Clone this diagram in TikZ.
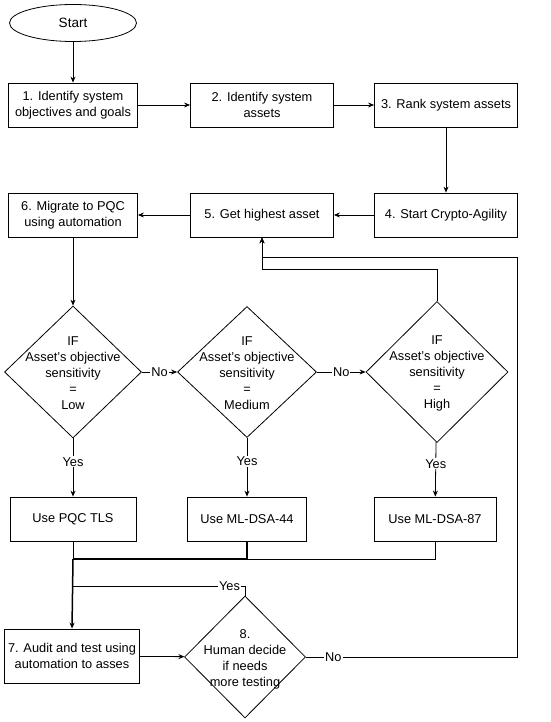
\documentclass[tikz,border=0pt]{standalone}
\usepackage{fontspec}
\setmainfont{Liberation Sans}
\usetikzlibrary{shapes.geometric,arrows.meta}
\begin{document}
\begin{tikzpicture}[x=1pt,y=-1pt,
  every node/.style={font=\fontsize{12.8}{15.5}\selectfont, text=black},
  box/.style={draw=black, line width=0.8pt, rectangle, minimum height=44pt, inner sep=0pt, align=center},
  dia/.style={draw=black, line width=0.8pt, diamond, inner sep=0pt},
  dtext/.style={align=center, font=\fontsize{12.8}{16}\selectfont},
  arr/.style={draw=black, line width=0.8pt, -{Stealth[length=6pt,width=5pt]}},
  ln/.style={draw=black, line width=0.8pt},
  lab/.style={fill=white, inner sep=1pt}
]
\useasboundingbox (0,0) rectangle (550,722);

\node[draw=black, line width=0.8pt, ellipse, minimum width=127pt, minimum height=37pt, inner sep=0pt, font=\fontsize{13.5}{16}\selectfont] (start) at (73,23) {Start};

\node[box, minimum width=129pt] (b1) at (73,105) {1. Identify system\\objectives and goals};
\node[box, minimum width=143pt] (b2) at (262,105) {2. Identify system\\assets};
\node[box, minimum width=143pt] (b3) at (446,105) {3. Rank system assets};

\node[box, minimum width=129pt] (b6) at (73,215) {6. Migrate to PQC\\using automation};
\node[box, minimum width=143pt] (b5) at (262,215) {5. Get highest asset};
\node[box, minimum width=143pt] (b4) at (446,215) {4. Start Crypto-Agility};

\node[dia, minimum width=137pt, minimum height=132pt] (d1) at (73,372) {};
\node[dtext] (t1) at (73,373) {IF\\Asset's objective\\sensitivity\\=\\Low};
\node[dia, minimum width=139pt, minimum height=131pt] (d2) at (247,372) {};
\node[dtext] (t2) at (247,373) {IF\\Asset's objective\\sensitivity\\=\\Medium};
\node[dia, minimum width=142pt, minimum height=141pt] (d3) at (437,372) {};
\node[dtext] (t3) at (437,373) {IF\\Asset's objective\\sensitivity\\=\\High};

\node[box, minimum width=126pt] (u1) at (73,519) {Use PQC TLS};
\node[box, minimum width=119pt] (u2) at (247,519) {Use ML-DSA-44};
\node[box, minimum width=122pt] (u3) at (435,519) {Use ML-DSA-87};

\node[box, minimum width=135pt, minimum height=54pt] (b7) at (72,656) {7. Audit and test using\\automation to asses};
\node[dia, minimum width=121pt, minimum height=122pt] (d8) at (245,657) {};
\node[dtext] (t8) at (245,659) {8.\\Human decide\\if needs\\more testing};

% coordinates
\coordinate (m1) at (73,559);
\coordinate (m2) at (73,586);
\coordinate (y8) at (245,586);
\coordinate (c3) at (437,269);
\coordinate (r1) at (517,657);
\coordinate (r2) at (517,257);

% connectors
\draw[arr] (start) -- (b1);
\draw[arr] (b1) -- (b2);
\draw[arr] (b2) -- (b3);
\draw[arr] (b3) -- (b4);
\draw[arr] (b4) -- (b5);
\draw[arr] (b5) -- (b6);
\draw[arr] (b6) -- (d1);
\draw[arr] (d1) -- node[lab]{No} (d2);
\draw[arr] (d2) -- node[lab]{No} (d3);
\draw[arr] (d1) -- node[lab,pos=0.4]{Yes} (u1);
\draw[arr] (d2) -- node[lab,pos=0.4]{Yes} (u2);
\draw[arr] (d3) -- node[lab,pos=0.4]{Yes} (u3);

\draw[ln] (u1.south) -- (m1);
\draw[ln, line width=1.4pt] (u2.south) |- (m1);
\draw[ln] (u3.south) |- (m1);
\draw[arr, line width=1.5pt] (m1) -- (b7.north);

\draw[arr] (b7) -- (d8);
\draw[ln] (d8.north) -- (y8) -- node[lab,pos=0.09]{Yes} (m2);
\draw[arr] (d8.east) -- node[lab,pos=0.13]{No} (r1) -- (r2) -| (b5.south);
\draw[arr] (d3.north) -- (c3) -| (b5.south);
\end{tikzpicture}
\end{document}
